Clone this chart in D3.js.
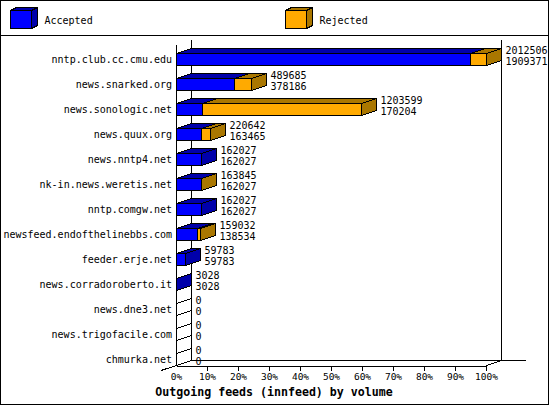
<!DOCTYPE html>
<html>
<head>
<meta charset="utf-8">
<script src="https://cdn.jsdelivr.net/npm/d3@7"></script>
<style>
html, body { margin: 0; padding: 0; background: #fff; }
svg { display: block; }
text { font-family: "DejaVu Sans Mono", monospace; font-size: 10px; fill: #000; }
.edge { stroke: #000; stroke-width: 1; shape-rendering: crispEdges; }
</style>
</head>
<body>
<div id="graphic"></div>
<script>
var feeds = ["nntp.club.cc.cmu.edu", "news.snarked.org", "news.sonologic.net", "news.quux.org",
  "news.nntp4.net", "nk-in.news.weretis.net", "nntp.comgw.net", "newsfeed.endofthelinebbs.com",
  "feeder.erje.net", "news.corradoroberto.it", "news.dne3.net", "news.trigofacile.com", "chmurka.net"];
var offered = [2012506, 489685, 1203599, 220642, 162027, 163845, 162027, 159032, 59783, 3028, 0, 0, 0];
var accepted = [1909371, 378186, 170204, 163465, 162027, 162027, 162027, 138534, 59783, 3028, 0, 0, 0];
var percentTicks = [0, 10, 20, 30, 40, 50, 60, 70, 80, 90, 100];
var legendNames = ["Accepted", "Rejected"];
var title = "Outgoing feeds (innfeed) by volume";

var width = 550, height = 405;
var dx = 15, dy = -5;
var colors = { blue: "#0000ff", blueDark: "#0000aa", orange: "#ffaa00", orangeDark: "#aa7700" };

var svg = d3.select("#graphic").append("svg").attr("width", width).attr("height", height);

var x = d3.scaleLinear().domain([0, 100]).range([176, 486]);
var value = d3.scaleLinear().domain([0, d3.max(offered)]).range([0, 100]);
var y = d3.scaleBand().domain(feeds).range([45, 370]);
var floorY = 365, wallTop = 45;
var barHeight = 12;

function px(v) { return Math.round(x(value(v))) + 0.5; }
function barTop(name) { return y(name) + 8.5; }

function poly(g, pts, fill) {
  g.append("polygon").attr("class", "edge").attr("fill", fill)
    .attr("points", pts.map(function(p) { return p.join(","); }).join(" "));
}

// frame
svg.append("rect").attr("class", "edge").attr("x", 0.5).attr("y", 0.5)
  .attr("width", width - 2).attr("height", height - 1).attr("fill", "#fff");
svg.append("line").attr("class", "edge").attr("x1", 0).attr("x2", width - 1).attr("y1", 35.5).attr("y2", 35.5);

// legend
var legendX = [10, 285];
var legendFill = [[colors.blue, colors.blueDark], [colors.orange, colors.orangeDark]];
legendNames.forEach(function(name, i) {
  var g = svg.append("g");
  var l = legendX[i] + 0.5, r = l + 21, t = 10.5, b = 28.5, c = legendFill[i];
  poly(g, [[l, t], [l + 6, t - 3], [r + 6, t - 3], [r, t]], c[1]);
  poly(g, [[r, t], [r + 6, t - 3], [r + 6, b - 3], [r, b]], c[1]);
  poly(g, [[l, t], [r, t], [r, b], [l, b]], c[0]);
  svg.append("text").attr("x", legendX[i] + 34.5).attr("y", 24).text(name);
});

// walls and floor
var wall = svg.append("g");
var line = function(x1, y1, x2, y2) {
  wall.append("line").attr("class", "edge").attr("x1", x1).attr("y1", y1).attr("x2", x2).attr("y2", y2);
};
line(x(0) + 0.5, wallTop, x(0) + 0.5, floorY + 0.5);
line(x(0) + dx + 0.5, wallTop + dy, x(0) + dx + 0.5, floorY + dy + 0.5);
line(x(100) + dx + 0.5, wallTop + dy, x(100) + dx + 0.5, floorY + dy + 0.5);
line(x(0) + dx, floorY + dy + 0.5, x(100) + dx + 25, floorY + dy + 0.5);
line(x(0) - dx, floorY + 5.5, x(0) + dx + 0.5, floorY + dy + 0.5);
line(x(100) + 0.5, floorY + 0.5, x(100) + dx + 0.5, floorY + dy + 0.5);

// x axis
var axis = d3.axisBottom(x).tickValues(percentTicks).tickSize(5).tickSizeOuter(0)
  .tickFormat(function(d) { return d + "%"; });
var axisG = svg.append("g").attr("transform", "translate(0," + (floorY + 0.5) + ")").call(axis);
axisG.selectAll("path, line").attr("stroke", "#000").style("shape-rendering", "crispEdges");
axisG.selectAll(".tick").filter(function(d) { return d === 0; }).select("line").remove();
axisG.selectAll("text").style("font-size", "9.5px").attr("y", 8).attr("dy", "0.71em");
axisG.attr("font-size", null).attr("font-family", null);

// bars
feeds.forEach(function(name, i) {
  var g = svg.append("g");
  var t = barTop(name), b = t + barHeight;
  var x0 = px(0), xa = px(accepted[i]), xo = px(offered[i]);
  var hasRejected = offered[i] > accepted[i];
  var empty = offered[i] === 0;
  poly(g, [[x0, t], [x0 + dx, t + dy], [xa + dx, t + dy], [xa, t]], empty ? "none" : colors.blueDark);
  if (hasRejected) poly(g, [[xa, t], [xa + dx, t + dy], [xo + dx, t + dy], [xo, t]], colors.orangeDark);
  poly(g, [[xo, t], [xo + dx, t + dy], [xo + dx, b + dy], [xo, b]],
    empty ? "none" : (hasRejected ? colors.orangeDark : colors.blueDark));
  poly(g, [[x0, t], [xa, t], [xa, b], [x0, b]], colors.blue);
  if (hasRejected) poly(g, [[xa, t], [xo, t], [xo, b], [xa, b]], colors.orange);
  svg.append("text").attr("x", xo + dx + 4).attr("y", t + 0.5).text(offered[i]);
  svg.append("text").attr("x", xo + dx + 4).attr("y", t + 11.5).text(accepted[i]);
  svg.append("text").attr("x", 172).attr("y", t + 9).attr("text-anchor", "end").text(name);
});

svg.append("text").attr("x", 274).attr("y", 396).attr("text-anchor", "middle")
  .style("font-weight", "bold").style("font-size", "11.6px").text(title);
</script>
</body>
</html>
